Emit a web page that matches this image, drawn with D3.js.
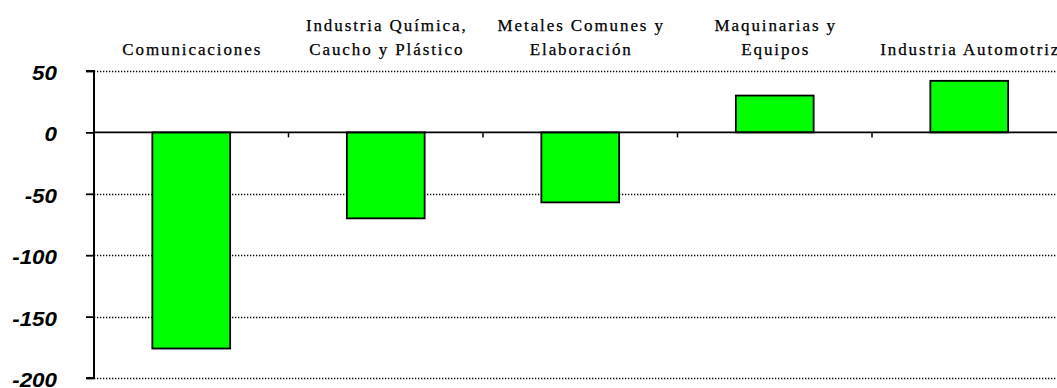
<!DOCTYPE html>
<html>
<head>
<meta charset="utf-8">
<script src="https://cdn.jsdelivr.net/npm/d3@7/dist/d3.min.js"></script>
<style>
  html, body { margin: 0; padding: 0; background: #fff; }
  svg { display: block; }
</style>
</head>
<body>
<svg id="chart" width="1057" height="388"></svg>
<script>
// Sector labels (each entry is the list of lines drawn above the column)
const categories = [
  "Comunicaciones",
  "Industria Química, Caucho y Plástico",
  "Metales Comunes y Elaboración",
  "Maquinarias y Equipos",
  "Industria Automotriz"
];
const labelLines = [
  ["Comunicaciones"],
  ["Industria Química,", "Caucho y Plástico"],
  ["Metales Comunes y", "Elaboración"],
  ["Maquinarias y", "Equipos"],
  ["Industria Automotriz"]
];
const values = [-176, -70, -57, 30, 42];
const yTicks = [50, 0, -50, -100, -150, -200];

const svg = d3.select("#chart");
const W = 1057;

const x = d3.scaleBand()
  .domain(categories)
  .range([94, 1066.5])
  .paddingInner(0.6)
  .paddingOuter(0.3);

const y = d3.scaleLinear()
  .domain([-200, 50])
  .range([378, 71]);

const x0 = x.range()[0];
const step = x.step();

// Dotted horizontal gridlines
svg.append("g")
  .selectAll("line")
  .data(yTicks.filter(t => t !== 0))
  .join("line")
  .attr("x1", x0).attr("x2", W)
  .attr("y1", d => Math.round(y(d)) + 0.5)
  .attr("y2", d => Math.round(y(d)) + 0.5)
  .attr("stroke", "#000")
  .attr("stroke-width", 1.3)
  .attr("stroke-dasharray", "1.3,1.7");

// Bars
svg.append("g")
  .selectAll("rect")
  .data(values)
  .join("rect")
  .attr("x", (d, i) => x(categories[i]))
  .attr("width", x.bandwidth())
  .attr("y", d => y(Math.max(0, d)))
  .attr("height", d => Math.abs(y(d) - y(0)))
  .attr("fill", "#00ff00")
  .attr("stroke", "#000")
  .attr("stroke-width", 1.8);

// Zero baseline with category separator ticks
const zeroY = y(0);
svg.append("line")
  .attr("x1", x0).attr("x2", W)
  .attr("y1", zeroY).attr("y2", zeroY)
  .attr("stroke", "#000")
  .attr("stroke-width", 1.6);

svg.append("g")
  .selectAll("line")
  .data(categories.slice(1))
  .join("line")
  .attr("x1", d => x(d) - step * x.paddingInner() / 2)
  .attr("x2", d => x(d) - step * x.paddingInner() / 2)
  .attr("y1", zeroY)
  .attr("y2", zeroY + 5)
  .attr("stroke", "#000")
  .attr("stroke-width", 1.5);

// Vertical value axis
const yAxis = d3.axisLeft(y)
  .tickValues(yTicks)
  .tickSize(8)
  .tickFormat(d3.format("d"));

const yg = svg.append("g")
  .attr("transform", `translate(${x0},0)`)
  .call(yAxis);

yg.select(".domain").attr("stroke-width", 2).attr("d", `M-8,${y(50)}H0V${y(-200)}H-8`);
yg.selectAll(".tick line").attr("stroke-width", 1.8);
yg.selectAll(".tick text").remove();

// Value labels (bold italic, slightly widened)
svg.append("g")
  .selectAll("text")
  .data(yTicks)
  .join("text")
  .attr("transform", d => `translate(57,${y(d) + 9}) scale(1.12,1)`)
  .attr("text-anchor", "end")
  .attr("font-family", "'Liberation Sans', Arial, sans-serif")
  .attr("font-weight", "bold")
  .attr("font-style", "italic")
  .attr("font-size", 20)
  .attr("fill", "#000")
  .text(d => d);

// Category labels above the plot
const lab = svg.append("g")
  .selectAll("text")
  .data(categories)
  .join("text")
  .attr("text-anchor", "middle")
  .attr("font-family", "'Liberation Serif', 'Times New Roman', serif")
  .attr("font-size", 17)
  .attr("letter-spacing", 1.9)
  .attr("fill", "#000")
  .attr("stroke", "#000")
  .attr("stroke-width", 0.25);

lab.each(function(d, i) {
  const lines = labelLines[i];
  const cx = x(d) + x.bandwidth() / 2 + 1;
  const baseY = lines.length === 2 ? 31 : 55;
  d3.select(this).selectAll("tspan")
    .data(lines)
    .join("tspan")
    .attr("x", cx)
    .attr("y", (t, j) => baseY + j * 24)
    .text(t => t);
});
</script>
</body>
</html>
